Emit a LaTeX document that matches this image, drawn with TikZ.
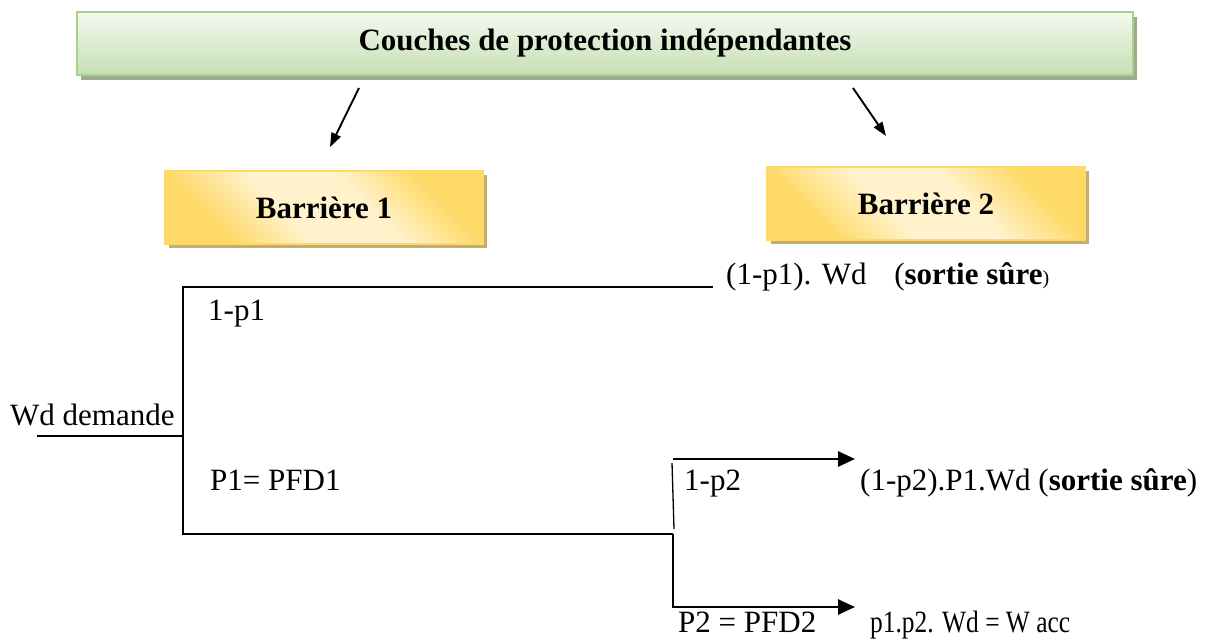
\documentclass[tikz,border=0pt]{standalone}
\usepackage{fontspec}
\setmainfont{Liberation Serif}
\usetikzlibrary{arrows.meta,shadows}

\definecolor{greenTop}{HTML}{F4FAF0}
\definecolor{greenBot}{HTML}{C5DFB2}
\definecolor{greenEdge}{HTML}{A9D18E}
\definecolor{greenShade}{HTML}{9EAB91}
\definecolor{goldDeep}{HTML}{FFD966}
\definecolor{goldPale}{HTML}{FFF2CC}
\definecolor{goldShade}{HTML}{BFAE7C}

% diagonal band: deep gold in two opposite corners, pale across the middle
\pgfdeclarehorizontalshading{goldband}{100bp}{%
  color(0bp)=(goldDeep); color(27bp)=(goldDeep); color(42bp)=(goldPale);
  color(58bp)=(goldPale); color(73bp)=(goldDeep); color(100bp)=(goldDeep)}

\begin{document}
\begin{tikzpicture}[x=1pt,y=-1pt,
  txt/.style={font=\fontsize{31}{36}\selectfont, inner sep=0pt, anchor=base west},
  titlebox/.style={draw=greenEdge, line width=2.5pt,
    top color=greenTop, bottom color=greenBot,
    minimum width=1056pt, minimum height=63pt,
    font=\fontsize{31}{36}\selectfont\bfseries,
    drop shadow={shadow xshift=4pt, shadow yshift=-5pt, fill=greenShade, opacity=1}},
  barrier/.style={draw=goldDeep, line width=2pt,
    shading=goldband, shading angle=45,
    minimum width=318pt, minimum height=72pt,
    font=\fontsize{31}{36}\selectfont\bfseries,
    drop shadow={shadow xshift=4pt, shadow yshift=-4pt, fill=goldShade, opacity=1}},
  branch/.style={line width=2.2pt, line join=miter},
  thinbranch/.style={line width=1.3pt},
  flow/.style={line width=2.8pt, line join=miter, -{Triangle[length=17pt,width=15pt]}},
  pointer/.style={line width=1.9pt, -{Triangle[length=14pt,width=10pt]}},
]
\useasboundingbox (0,0) rectangle (1223,639);

% header and the two barriers
\node[titlebox] (title) at (605,43.5) {Couches de protection indépendantes};
\node[barrier] (b1) at (324,207.5) {Barrière 1};
\node[barrier] (b2) at (926,203.5) {Barrière 2};

\coordinate (p1s) at (359,88);
\coordinate (p1e) at (330,147);
\coordinate (p2s) at (853,88);
\coordinate (p2e) at (886,136);
\draw[pointer] (p1s) -- (p1e);
\draw[pointer] (p2s) -- (p2e);

% event tree
\coordinate (in)   at (37,436);
\coordinate (j1)   at (183,436);
\coordinate (topL) at (183,287);
\coordinate (topR) at (713,287);
\coordinate (botL) at (183,534);
\coordinate (j2)   at (673,534);
\coordinate (lowL) at (673,607);
\coordinate (lowR) at (855,607);
\coordinate (upL)  at (673,459);
\coordinate (upR)  at (855,459);
\coordinate (upV1) at (672,463);
\coordinate (upV2) at (674,529);

\draw[branch] (in) -- (j1);
\draw[branch] (topR) -- (topL) -- (botL) -- (j2);
\draw[flow] (j2) -- (lowL) -- (lowR);
\draw[flow] (upL) -- (upR);
\draw[thinbranch] (upV1) -- (upV2);

% labels
\node[txt] (wd)  at (10,425)  {Wd demande};
\node[txt] (q1)  at (208,320) {1-p1};
\node[txt] (s1)  at (726,284) {(1-p1). Wd\hspace*{20pt} (\textbf{sortie sûre}{\fontsize{20}{20}\selectfont)}};
\node[txt] (f1)  at (210,490) {P1= PFD1};
\node[txt] (q2)  at (684,490) {1-p2};
\node[txt] (s2)  at (860,490) {(1-p2).P1.Wd (\textbf{sortie sûre})};
\node[txt] (f2)  at (678,632) {P2 = PFD2};
\node[txt] (acc) at (870,632) {\scalebox{0.82}[1]{p1.p2. Wd = W acc}};
\end{tikzpicture}
\end{document}
